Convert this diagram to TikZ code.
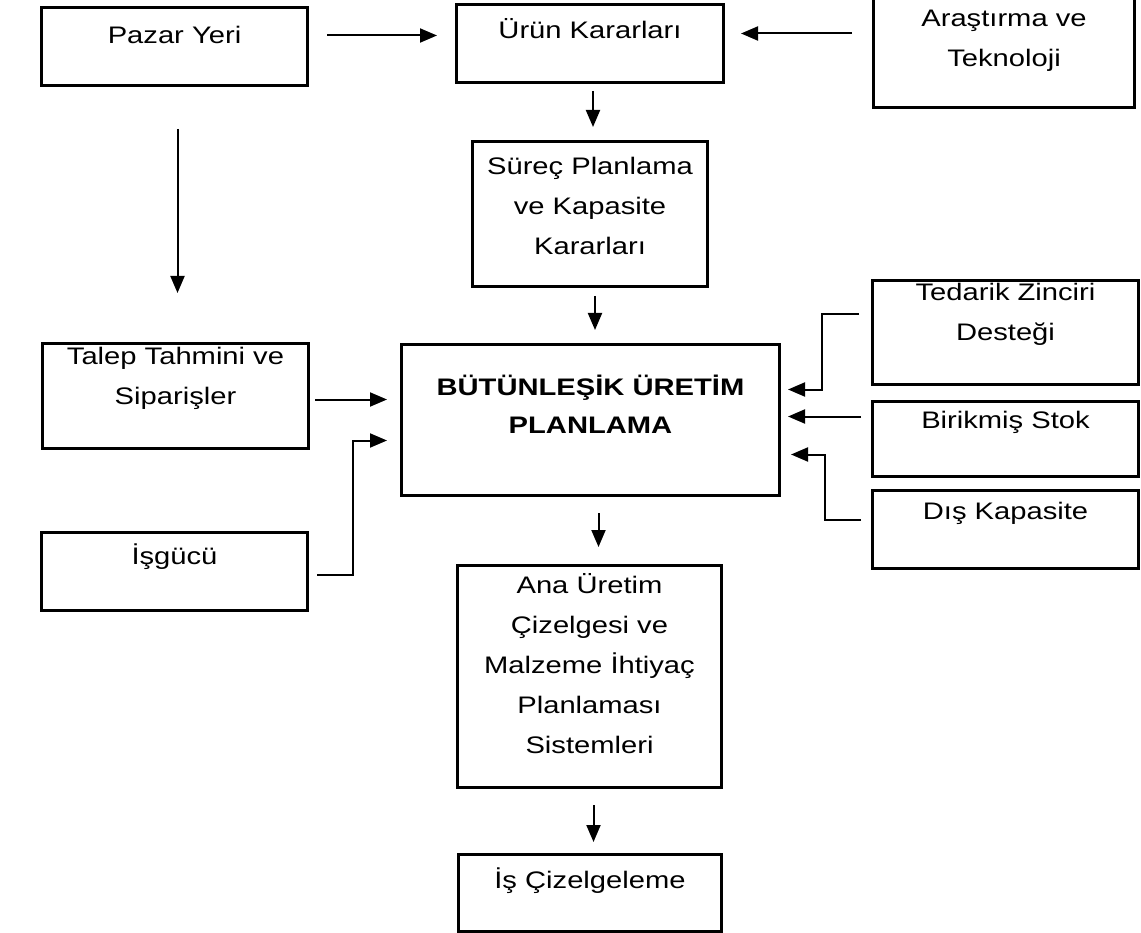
\documentclass[tikz,border=0pt]{standalone}
\usepackage{fontspec}
\setmainfont{Liberation Sans}[FakeStretch=1.22]
\usepackage{tikz}
\usetikzlibrary{
	arrows.meta
}

% box text: width, height, first baseline, lines
\newcommand{\boxtext}[4]{\parbox[t][#2pt][t]{#1pt}{\centering\fontsize{23.9}{40}\selectfont\rule{0pt}{#3pt}#4}}

\begin{document}
\begin{tikzpicture}[x=1pt,y=-1pt,
		blk/.style={draw,line width=3pt,inner sep=0pt,anchor=north west},
		arr/.style={line width=2pt,-{Triangle[length=17pt,width=14pt]}}
	]
		\useasboundingbox (0,0) rectangle (1141,933);

		\node[blk] (pazar)     at (40,6)    {\boxtext{266}{78}{36}{Pazar Yeri}};
		\node[blk] (urun)      at (455,3)   {\boxtext{267}{78}{34}{Ürün Kararları}};
		\node[blk] (arastirma) at (872,-3)  {\boxtext{261}{109}{28}{Araştırma ve\\Teknoloji}};
		\node[blk] (surec)     at (471,140) {\boxtext{235}{145}{33}{Süreç Planlama\\ve Kapasite\\Kararları}};
		\node[blk] (talep)     at (41,342)  {\boxtext{266}{105}{21}{Talep Tahmini ve\\Siparişler}};
		\node[blk] (bup)       at (400,343) {\boxtext{378}{151}{51}{\bfseries\fontsize{23.9}{38}\selectfont BÜTÜNLEŞİK ÜRETİM\\PLANLAMA}};
		\node[blk] (isgucu)    at (40,531)  {\boxtext{266}{78}{32}{İşgücü}};
		\node[blk] (tedarik)   at (871,279) {\boxtext{266}{104}{20}{Tedarik Zinciri\\Desteği}};
		\node[blk] (birikmis)  at (871,400) {\boxtext{266}{75}{27}{Birikmiş Stok}};
		\node[blk] (dis)       at (871,489) {\boxtext{266}{78}{29}{Dış Kapasite}};
		\node[blk] (ana)       at (456,564) {\boxtext{264}{222}{28}{Ana Üretim\\Çizelgesi ve\\Malzeme İhtiyaç\\Planlaması\\Sistemleri}};
		\node[blk] (is)        at (457,853) {\boxtext{263}{77}{34}{İş Çizelgeleme}};

		% top row
		\draw[arr,shorten <=18pt,shorten >=18pt] ([yshift=11pt]pazar.east) -- ([yshift=11pt]pazar.east -| urun.west);
		\draw[arr,shorten <=20pt,shorten >=16pt] ([yshift=10pt]urun.east -| arastirma.west) -- ([yshift=10pt]urun.east);
		\draw[arr,shorten <=7pt,shorten >=13pt] ([xshift=3pt]urun.south) -- ([xshift=3pt]urun.south |- surec.north);
		\draw[arr,shorten <=8pt,shorten >=13pt] ([xshift=5pt]surec.south) -- ([xshift=5pt]surec.south |- bup.north);
		\draw[arr,shorten <=42pt,shorten >=49pt] ([xshift=3pt]pazar.south) -- ([xshift=3pt]pazar.south |- talep.north);

		% left inputs
		\draw[arr,shorten <=5pt,shorten >=13pt] ([yshift=-3.5pt]talep.east) -- ([yshift=-3.5pt]talep.east -| bup.west);
		\draw[arr,shorten <=8pt,shorten >=13pt] ([yshift=-3pt]isgucu.east) -- ++(44pt,0) |- ([yshift=-20.5pt]bup.west);

		% right inputs
		\draw[arr,shorten <=12pt,shorten >=7pt] ([yshift=18pt]tedarik.west) -- ++(-49pt,0) |- ([yshift=30.5pt]bup.east);
		\draw[arr,shorten <=10pt,shorten >=7pt] ([yshift=3.5pt]bup.east -| birikmis.west) -- ([yshift=3.5pt]bup.east);
		\draw[arr,shorten <=10pt,shorten >=10pt] ([yshift=10pt]dis.west) -- ++(-46pt,0) |- ([yshift=-34.5pt]bup.east);

		% outputs
		\draw[arr,shorten <=16pt,shorten >=17pt] ([xshift=8pt]bup.south) -- ([xshift=8pt]bup.south |- ana.north);
		\draw[arr,shorten <=16pt,shorten >=11pt] ([xshift=4pt]ana.south) -- ([xshift=4pt]ana.south |- is.north);
\end{tikzpicture}
\end{document}
